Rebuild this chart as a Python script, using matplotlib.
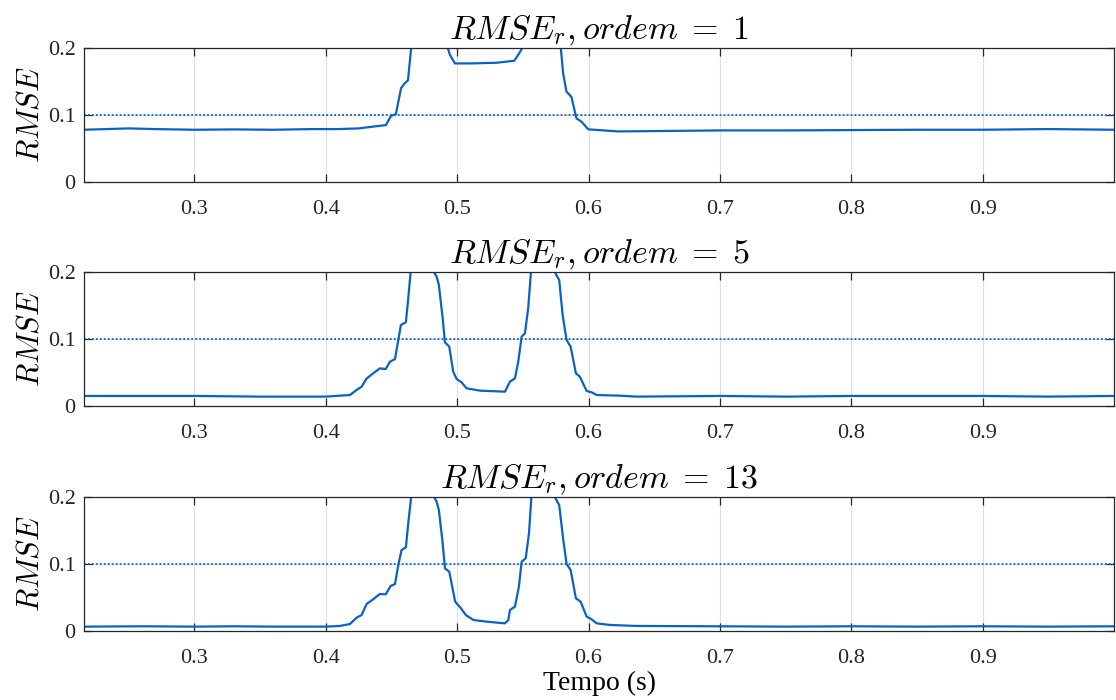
import matplotlib.pyplot as plt

plt.rcParams['font.family'] = ['Liberation Serif', 'DejaVu Serif']
plt.rcParams['mathtext.fontset'] = 'cm'

# ordem = 1
t1 = [0.216, 0.25, 0.27, 0.30, 0.33, 0.36, 0.39, 0.41, 0.425, 0.4458, 0.4496, 0.4534,
      0.4573, 0.4595, 0.4626, 0.4650, 0.468, 0.490, 0.4929, 0.4945, 0.4983, 0.51, 0.53,
      0.5435, 0.5472, 0.5496, 0.552, 0.575, 0.5789, 0.5807, 0.5832, 0.5870, 0.5908,
      0.5947, 0.5998, 0.6227, 0.65, 0.70, 0.75, 0.80, 0.85, 0.90, 0.95, 1.0]
rmse1 = [0.078, 0.080, 0.079, 0.078, 0.0785, 0.078, 0.079, 0.079, 0.080, 0.085, 0.0985,
         0.1015, 0.14, 0.146, 0.152, 0.20, 0.3, 0.3, 0.20, 0.19, 0.177, 0.177, 0.178,
         0.181, 0.192, 0.2, 0.3, 0.3, 0.2, 0.162, 0.135, 0.127, 0.095, 0.09, 0.0786,
         0.0755, 0.076, 0.077, 0.077, 0.0775, 0.078, 0.078, 0.079, 0.078]

# ordem = 5
t5 = [0.216, 0.26, 0.30, 0.35, 0.40, 0.4184, 0.4235, 0.4273, 0.4311, 0.4361, 0.4412,
      0.4456, 0.4489, 0.4527, 0.4552, 0.4572, 0.4610, 0.4628, 0.4646, 0.468, 0.479,
      0.4823, 0.4844, 0.4861, 0.4890, 0.4907, 0.4940, 0.4970, 0.4996, 0.5034, 0.5072,
      0.5174, 0.5364, 0.5402, 0.5440, 0.5465, 0.5491, 0.5516, 0.5541, 0.5562, 0.559,
      0.572, 0.5744, 0.5762, 0.5777, 0.5803, 0.5833, 0.5864, 0.5904, 0.5934, 0.5986,
      0.6024, 0.6062, 0.6239, 0.6366, 0.70, 0.75, 0.80, 0.85, 0.90, 0.95, 1.0]
rmse5 = [0.015, 0.015, 0.015, 0.014, 0.014, 0.0164, 0.0239, 0.0289, 0.041, 0.0488, 0.0562,
         0.0552, 0.0662, 0.0701, 0.0985, 0.121, 0.125, 0.161, 0.2, 0.3, 0.3, 0.2, 0.193,
         0.1806, 0.131, 0.095, 0.0886, 0.0512, 0.0403, 0.0353, 0.0264, 0.0229, 0.0214,
         0.0363, 0.0413, 0.066, 0.1035, 0.1085, 0.146, 0.2, 0.3, 0.3, 0.2, 0.193, 0.188,
         0.136, 0.0985, 0.0886, 0.0488, 0.0438, 0.0224, 0.0204, 0.0164, 0.0154, 0.014,
         0.015, 0.014, 0.015, 0.015, 0.015, 0.014, 0.015]

# ordem = 13
t13 = [0.216, 0.26, 0.30, 0.33, 0.36, 0.40, 0.4108, 0.4184, 0.4235, 0.4273, 0.4311,
       0.4361, 0.4412, 0.4456, 0.4494, 0.4527, 0.4552, 0.4577, 0.4610, 0.4628, 0.4650,
       0.468, 0.479, 0.4825, 0.4844, 0.4861, 0.4890, 0.4907, 0.4940, 0.4985, 0.5023,
       0.5066, 0.5124, 0.5225, 0.5364, 0.5390, 0.5402, 0.5440, 0.5470, 0.5491, 0.5522,
       0.5547, 0.5565, 0.559, 0.572, 0.5744, 0.5762, 0.5777, 0.5808, 0.5833, 0.5864,
       0.5904, 0.5940, 0.5986, 0.6024, 0.6062, 0.6163, 0.6366, 0.70, 0.75, 0.80, 0.85,
       0.90, 0.95, 1.0]
rmse13 = [0.0065, 0.007, 0.0065, 0.007, 0.0065, 0.0065, 0.0075, 0.0104, 0.0199, 0.0239,
          0.0403, 0.0473, 0.0552, 0.0547, 0.0672, 0.0701, 0.0985, 0.1209, 0.1249, 0.161,
          0.2, 0.3, 0.3, 0.2, 0.193, 0.1806, 0.131, 0.0935, 0.0886, 0.0438, 0.0353,
          0.0239, 0.0164, 0.0139, 0.0114, 0.0164, 0.0313, 0.0363, 0.066, 0.1035, 0.1085,
          0.146, 0.2, 0.3, 0.3, 0.2, 0.193, 0.188, 0.136, 0.1, 0.091, 0.0488, 0.0438,
          0.0214, 0.0174, 0.0114, 0.009, 0.0075, 0.007, 0.0065, 0.007, 0.0065, 0.007,
          0.0065, 0.007]

ordens = [1, 5, 13]
tempos = [t1, t5, t13]
rmses = [rmse1, rmse5, rmse13]
limiar = 0.1

xticks = [0.3, 0.4, 0.5, 0.6, 0.7, 0.8, 0.9]
yticks = [0, 0.1, 0.2]
ytick_labels = ['0', '0.1', '0.2']

cor = '#0a62c4'
escuro = '#262626'

fig = plt.figure(figsize=(11.16, 7), dpi=100)
bottoms = [0.74, 0.42, 0.0986]

for i in range(3):
    ax = fig.add_axes([0.0753, bottoms[i], 0.9229, 0.1914])
    ax.plot(tempos[i], rmses[i], color=cor, lw=1.6)
    ax.axhline(limiar, color=cor, lw=1.3, ls=(0, (1, 1.2)))
    ax.set_xlim(0.216, 1.0)
    ax.set_ylim(0, 0.2)
    ax.set_xticks(xticks)
    ax.set_xticklabels([str(x) for x in xticks])
    ax.set_yticks(yticks)
    ax.set_yticklabels(ytick_labels)
    ax.grid(True, color='#dedede', lw=0.8)
    ax.set_axisbelow(True)
    ax.tick_params(direction='in', top=True, right=True, length=6, width=0.9,
                   labelsize=16, colors=escuro)
    ax.tick_params(axis='x', pad=13)
    ax.tick_params(axis='y', pad=6)
    for s in ax.spines.values():
        s.set_color(escuro)
        s.set_linewidth(0.9)
    ax.set_title(r'$RMSE_r,ordem\;=\;%d$' % ordens[i], fontsize=24.5, pad=6)
    ax.set_ylabel(r'$RMSE$', fontsize=22, labelpad=2)
    if i == 2:
        ax.set_xlabel('Tempo (s)', fontsize=20, labelpad=2)

fig.savefig('out.png', dpi=100)
